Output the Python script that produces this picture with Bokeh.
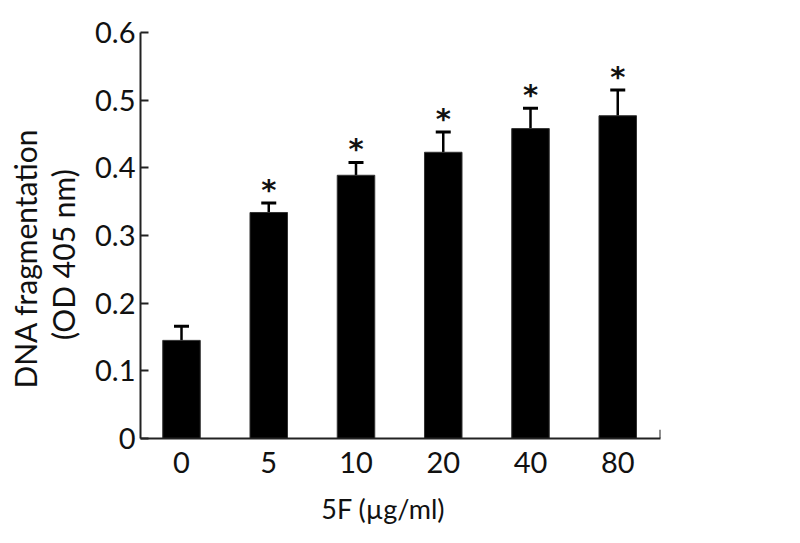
from bokeh.plotting import figure
from bokeh.models import ColumnDataSource, Whisker, FixedTicker, Range1d
from bokeh.core.properties import value
from bokeh.embed import file_html
from bokeh.resources import INLINE

# ---- data ----
doses = ["0", "5", "10", "20", "40", "80"]
means = [0.145, 0.334, 0.389, 0.423, 0.458, 0.477]
errors = [0.021, 0.014, 0.019, 0.030, 0.030, 0.038]
significant = ["", "*", "*", "*", "*", "*"]
y_ticks = [0, 0.1, 0.2, 0.3, 0.4, 0.5, 0.6]
y_tick_labels = ["0", "0.1", "0.2", "0.3", "0.4", "0.5", "0.6"]
x_title = "5F (µg/ml)"
y_title_lines = ["DNA fragmentation", "(OD 405 nm)"]

FONT = "Lato"
INK = "#111111"
NBSP = "\u00a0"

xs = list(range(len(doses)))
uppers = [m + e for m, e in zip(means, errors)]
src = ColumnDataSource(dict(x=xs, top=means, upper=uppers, star=significant))

x_start, x_end = -0.47, 5.49
p = figure(width=784, height=527, output_backend="svg", toolbar_location=None,
           x_range=Range1d(x_start, x_end), y_range=Range1d(0, 0.6),
           min_border_left=140, min_border_right=124,
           min_border_top=32, min_border_bottom=89)
p.outline_line_color = None
p.grid.visible = False
p.background_fill_color = "white"
p.border_fill_color = "white"

p.vbar(x="x", top="top", bottom=0, width=0.43, source=src,
       fill_color="black", line_color="#333333", line_width=1)

w = Whisker(base="x", lower="top", upper="upper", source=src,
            line_color="black", line_width=2.5, lower_head=None)
w.upper_head.size = 15
w.upper_head.line_width = 3
w.upper_head.line_color = "black"
p.add_layout(w)

p.text(x="x", y="upper", text="star", source=src, text_align="center",
       text_baseline="middle", y_offset=-13, text_font=value("DejaVu Sans"),
       text_font_style="bold", text_font_size="29px", text_color=INK)

# right end tick on x axis
p.segment(x0=[x_end], x1=[x_end], y0=[0], y1=[0.013], line_color="#222222", line_width=2)

# axes
ya = p.yaxis[0]
ya.ticker = FixedTicker(ticks=y_ticks)
ya.major_label_overrides = {t: l for t, l in zip(y_ticks, y_tick_labels)}
ya.major_tick_in = 8
ya.major_tick_out = 0
ya.minor_tick_line_color = None
ya.axis_line_width = 2
ya.axis_line_color = "#222222"
ya.major_tick_line_width = 2
ya.major_tick_line_color = "#222222"
ya.major_label_text_font = FONT
ya.major_label_text_font_size = "29px"
ya.major_label_text_color = INK
ya.major_label_standoff = 5
# trailing no-break spaces shift the title toward the bottom like the reference
ya.axis_label = (y_title_lines[0] + NBSP * 6) + "\n" + (y_title_lines[1] + NBSP * 5)
ya.axis_label_text_font = FONT
ya.axis_label_text_font_size = "30px"
ya.axis_label_text_font_style = "normal"
ya.axis_label_text_color = INK
ya.axis_label_text_align = "center"
ya.axis_label_text_line_height = 1.05
ya.axis_label_standoff = 11

xa = p.xaxis[0]
xa.ticker = FixedTicker(ticks=xs)
xa.major_label_overrides = {i: d for i, d in zip(xs, doses)}
xa.major_tick_in = 0
xa.major_tick_out = 0
xa.minor_tick_line_color = None
xa.axis_line_width = 2
xa.axis_line_color = "#222222"
xa.major_label_text_font = FONT
xa.major_label_text_font_size = "29px"
xa.major_label_text_color = INK
xa.major_label_text_line_height = 1.0
xa.major_label_standoff = 13
xa.axis_label = x_title + NBSP * 5
xa.axis_label_text_font = FONT
xa.axis_label_text_font_size = "27px"
xa.axis_label_text_font_style = "normal"
xa.axis_label_text_color = INK
xa.axis_label_text_line_height = 1.0
xa.axis_label_standoff = 16

open("out.html", "w").write(file_html(p, INLINE))
